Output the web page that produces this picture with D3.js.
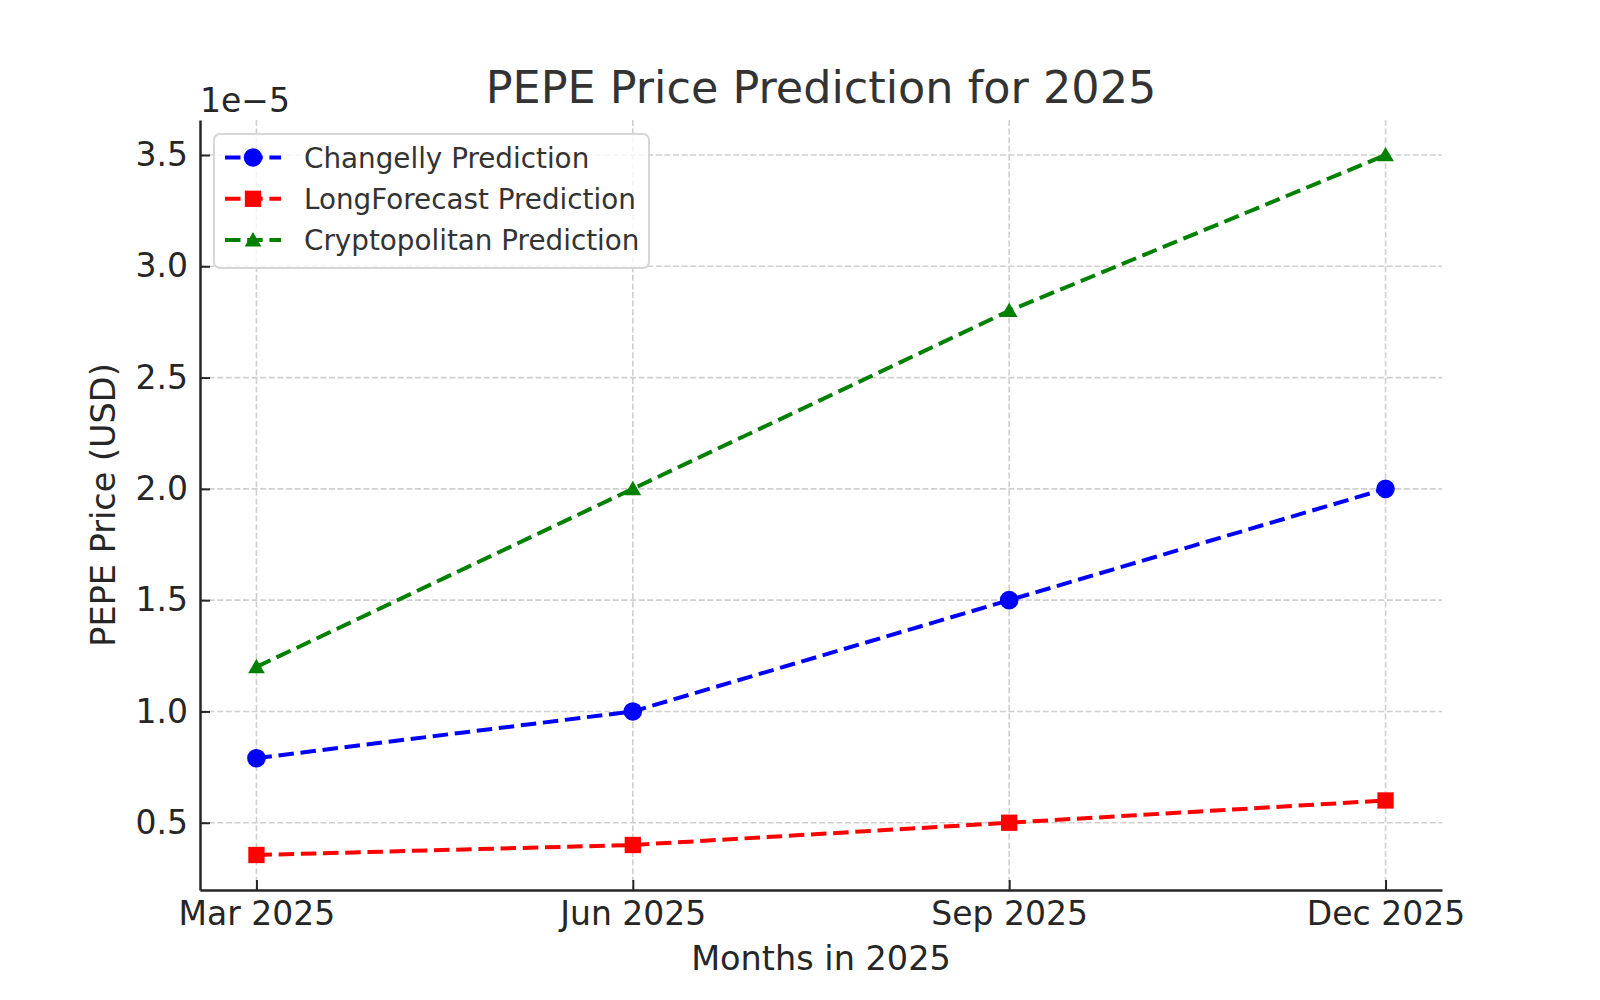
<!DOCTYPE html>
<html>
<head>
<meta charset="utf-8">
<script src="https://cdn.jsdelivr.net/npm/d3@7"></script>
<style>
  body { margin: 0; background: #fff; }
  svg { font-family: "DejaVu Sans", sans-serif; }
</style>
</head>
<body>
<svg id="chart" width="1600" height="1000"></svg>
<script>
// data (prices in units of 1e-5 USD)
const months = ['Mar 2025', 'Jun 2025', 'Sep 2025', 'Dec 2025'];
const changelly = [0.79, 1.0, 1.5, 2.0];
const longForecast = [0.355, 0.4, 0.5, 0.6];
const cryptopolitan = [1.2, 2.0, 2.8, 3.5];
const yTicks = [0.5, 1.0, 1.5, 2.0, 2.5, 3.0, 3.5];

const series = [
  {name: 'Changelly Prediction', values: changelly, color: '#0000ff', marker: 'circle'},
  {name: 'LongForecast Prediction', values: longForecast, color: '#ff0000', marker: 'square'},
  {name: 'Cryptopolitan Prediction', values: cryptopolitan, color: '#008000', marker: 'triangle'},
];

const plotLeft = 200, plotRight = 1442, plotTop = 120, plotBottom = 890;
const svg = d3.select('#chart');

// matplotlib-like 5% margins
let all = [].concat(changelly, longForecast, cryptopolitan);
let yMin = d3.min(all), yMax = d3.max(all);
let pad = (yMax - yMin) * 0.05;
let n = months.length - 1;

let x = d3.scaleLinear().domain([-0.05 * n, n + 0.05 * n]).range([plotLeft, plotRight]);
let y = d3.scaleLinear().domain([yMin - pad, yMax + pad]).range([plotBottom, plotTop]);

// grid
let grid = svg.append('g').attr('class', 'grid')
  .attr('stroke', '#cfcfcf').attr('stroke-width', 1.6).attr('stroke-dasharray', '6,2.6');
grid.selectAll('line.v').data(months).enter().append('line')
  .attr('x1', (d, i) => x(i)).attr('x2', (d, i) => x(i))
  .attr('y1', plotTop).attr('y2', plotBottom);
grid.selectAll('line.h').data(yTicks).enter().append('line')
  .attr('x1', plotLeft).attr('x2', plotRight)
  .attr('y1', d => y(d)).attr('y2', d => y(d));

// lines + markers
let line = d3.line().x((d, i) => x(i)).y(d => y(d));
let sym = {
  circle: d3.symbol().type(d3.symbolCircle).size(Math.PI * 9.3 * 9.3),
  square: d3.symbol().type(d3.symbolSquare).size(16.3 * 16.3),
  triangle: d3.symbol().type(d3.symbolTriangle).size(120),
};

series.forEach(s => {
  svg.append('path')
    .attr('d', line(s.values))
    .attr('fill', 'none')
    .attr('stroke', s.color)
    .attr('stroke-width', 4)
    .attr('stroke-dasharray', '15.5,6.7');
  svg.selectAll(null).data(s.values).enter().append('path')
    .attr('d', sym[s.marker]())
    .attr('transform', (d, i) => 'translate(' + x(i) + ',' + (y(d) + (s.marker === 'triangle' ? 1.5 : 0)) + ')')
    .attr('fill', s.color);
});

// axes
let xAxis = d3.axisBottom(x)
  .tickValues(d3.range(months.length))
  .tickFormat(i => months[i])
  .tickSizeInner(-10).tickSizeOuter(0).tickPadding(11.5);
let yAxis = d3.axisLeft(y)
  .tickValues(yTicks)
  .tickFormat(d3.format('.1f'))
  .tickSizeInner(-10).tickSizeOuter(0).tickPadding(12);

let gx = svg.append('g').attr('transform', 'translate(0,' + plotBottom + ')').call(xAxis);
let gy = svg.append('g').attr('transform', 'translate(' + plotLeft + ',0)').call(yAxis);
[gx, gy].forEach(g => {
  g.select('.domain').attr('stroke', '#262626').attr('stroke-width', 2.5);
  g.selectAll('.tick line').attr('stroke', '#262626').attr('stroke-width', 2);
  g.selectAll('.tick text').attr('fill', '#262626').style('font-size', '33px')
    .style('font-family', '"DejaVu Sans", sans-serif');
});

// offset text
svg.append('text').attr('x', 200).attr('y', 112).attr('fill', '#262626')
  .style('font-size', '33px').text('1e\u22125');

// title and labels
svg.append('text').attr('x', (plotLeft + plotRight) / 2).attr('y', 102.5)
  .attr('text-anchor', 'middle').attr('fill', '#333333')
  .style('font-size', '44.5px').text('PEPE Price Prediction for 2025');
svg.append('text').attr('x', (plotLeft + plotRight) / 2).attr('y', 970)
  .attr('text-anchor', 'middle').attr('fill', '#262626')
  .style('font-size', '33.5px').text('Months in 2025');
svg.append('text')
  .attr('transform', 'translate(115,' + ((plotTop + plotBottom) / 2) + ') rotate(-90)')
  .attr('text-anchor', 'middle').attr('fill', '#262626')
  .style('font-size', '33.5px').text('PEPE Price (USD)');

// legend
let lg = svg.append('g');
lg.append('rect').attr('x', 214).attr('y', 134).attr('width', 435).attr('height', 134)
  .attr('rx', 6).attr('fill', 'rgba(255,255,255,0.8)')
  .attr('stroke', '#d6d6d6').attr('stroke-width', 2);
series.forEach((s, i) => {
  let cy = 157.5 + i * 41.3;
  lg.append('line').attr('x1', 225).attr('x2', 281).attr('y1', cy).attr('y2', cy)
    .attr('stroke', s.color).attr('stroke-width', 4).attr('stroke-dasharray', '15.5,6.7');
  lg.append('path').attr('d', sym[s.marker]())
    .attr('transform', 'translate(253,' + (cy + (s.marker === 'triangle' ? 1.5 : 0)) + ')')
    .attr('fill', s.color);
  lg.append('text').attr('x', 304).attr('y', cy + 10)
    .attr('fill', '#333333').style('font-size', '27.8px').text(s.name);
});
</script>
</body>
</html>
